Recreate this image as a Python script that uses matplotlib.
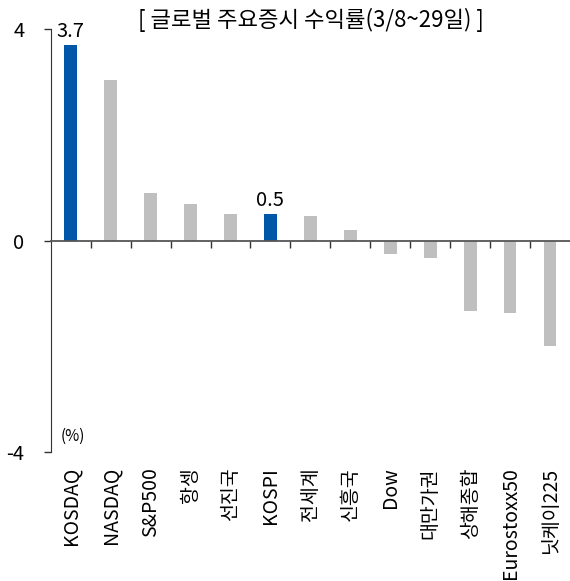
import matplotlib.pyplot as plt
import matplotlib.transforms as mtransforms

plt.rcParams['font.family'] = ['Noto Sans CJK KR', 'DejaVu Sans']

# 3/8~29 returns (%)
names = ['KOSDAQ', 'NASDAQ', 'S&P500', '항셍', '선진국', 'KOSPI', '전세계',
         '신흥국', 'Dow', '대만가권', '상해종합', 'Eurostoxx50', '닛케이225']
returns = [3.7, 3.04, 0.9, 0.7, 0.51, 0.5, 0.47, 0.2, -0.25, -0.33, -1.33, -1.36, -2.0]
highlight = ['KOSDAQ', 'KOSPI']

blue = '#0057A8'
grey = '#BFBFBF'
colors = [blue if n in highlight else grey for n in names]

fig = plt.figure(figsize=(5.7, 5.81), dpi=100)
ax = fig.add_axes([0.089, 0.222, 0.911, 0.7276])

x = list(range(len(names)))
ax.bar(x, returns, width=0.32, color=colors, zorder=2)

# value labels on the highlighted bars
for i, (n, v) in enumerate(zip(names, returns)):
    if n in highlight:
        ax.text(i, v + 0.06, f'{v:.1f}', ha='center', va='bottom', fontsize=14.5)

ax.set_xlim(-0.5, len(names) - 0.5)
ax.set_ylim(-4, 4)
ax.set_yticks([-4, 0, 4])
ax.set_yticklabels(['-4', '0', '4'], fontsize=14.5)
ax.tick_params(axis='y', direction='out', length=5, width=1, pad=14, color='#333333')

# zero line as the x axis, with ticks between categories
for s in ['top', 'right']:
    ax.spines[s].set_visible(False)
ax.spines['bottom'].set_position(('data', 0))
ax.spines['bottom'].set_color('#555555')
ax.spines['bottom'].set_linewidth(1.3)
ax.spines['left'].set_color('#333333')
ax.set_xticks([i + 0.5 for i in x[:-1]])
ax.set_xticklabels([])
ax.tick_params(axis='x', direction='out', length=5, width=1, color='#333333')

# category labels under the plot
trans = mtransforms.blended_transform_factory(ax.transData, ax.transAxes)
for i, n in enumerate(names):
    ax.text(i, -0.036, n, transform=trans, rotation=90, ha='center', va='top',
            fontsize=14)

ax.text(0.02, 0.018, '(%)', transform=ax.transAxes, fontsize=11, ha='left', va='bottom')

fig.text(0.545, 0.965, '[ 글로벌 주요증시 수익률(3/8~29일) ]', ha='center', va='center',
         fontsize=16)

fig.savefig('out.png', dpi=100)
